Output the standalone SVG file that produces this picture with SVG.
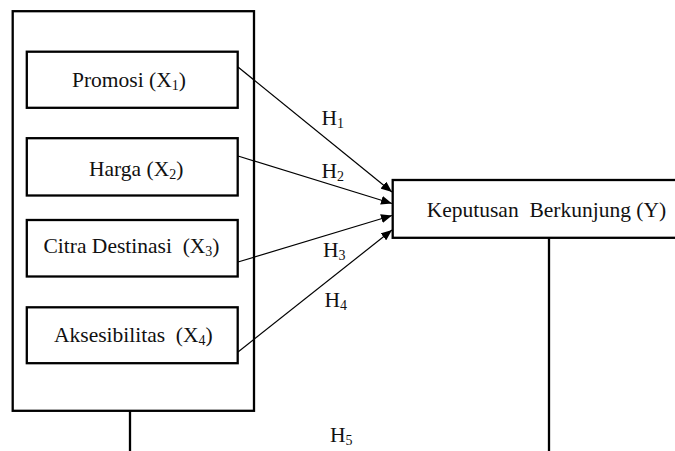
<svg xmlns="http://www.w3.org/2000/svg" width="675" height="451" viewBox="0 0 675 451">
  <style>
    .box { fill: #fff; stroke: #000; stroke-width: 2.3; }
    .t { font-family: 'Liberation Serif', 'Times New Roman', serif; font-size: 21.5px; fill: #111; }
    .s { font-size: 14px; }
    .edge { stroke: #000; stroke-width: 1.2; fill: none; }
    .line { stroke: #000; stroke-width: 2.3; fill: none; }
  </style>
  <defs>
    <marker id="arr" markerUnits="userSpaceOnUse" markerWidth="11" markerHeight="9" refX="11" refY="4.5" orient="auto">
      <path d="M0,0 L11,4.5 L0,9 Z" fill="#000"/>
    </marker>
  </defs>

  <g id="outer">
    <rect class="box" x="12.7" y="11.2" width="241.3" height="399.6"/>
  </g>

  <g id="connectors">
    <line class="edge" x1="238" y1="67" x2="392" y2="192" marker-end="url(#arr)"/>
    <line class="edge" x1="238" y1="156" x2="392" y2="203.5" marker-end="url(#arr)"/>
    <line class="edge" x1="238" y1="262" x2="392" y2="215.5" marker-end="url(#arr)"/>
    <line class="edge" x1="238" y1="352" x2="392" y2="230" marker-end="url(#arr)"/>
    <line class="line" x1="130" y1="410.8" x2="130" y2="452"/>
    <line class="line" x1="549" y1="237.8" x2="549" y2="452"/>
    <text class="t" x="321.5" y="125">H<tspan class="s" dy="3">1</tspan></text>
    <text class="t" x="321.5" y="178">H<tspan class="s" dy="3">2</tspan></text>
    <text class="t" x="323" y="256.5">H<tspan class="s" dy="3">3</tspan></text>
    <text class="t" x="324.5" y="306.5">H<tspan class="s" dy="3">4</tspan></text>
    <text class="t" x="330" y="441.5">H<tspan class="s" dy="3">5</tspan></text>
  </g>

  <g id="x1">
    <rect class="box" x="26.8" y="51.7" width="210.9" height="56.1"/>
    <text class="t" x="72" y="87">Promosi (X<tspan class="s" dy="3">1</tspan><tspan dy="-3">)</tspan></text>
  </g>
  <g id="x2">
    <rect class="box" x="26.8" y="138.2" width="210.9" height="57.3"/>
    <text class="t" x="89" y="175.5">Harga (X<tspan class="s" dy="3">2</tspan><tspan dy="-3">)</tspan></text>
  </g>
  <g id="x3">
    <rect class="box" x="26.8" y="220" width="210.9" height="56.5"/>
    <text class="t" x="43.5" y="253.3" xml:space="preserve">Citra Destinasi  (X<tspan class="s" dy="3">3</tspan><tspan dy="-3">)</tspan></text>
  </g>
  <g id="x4">
    <rect class="box" x="26.8" y="307.3" width="210.9" height="55.9"/>
    <text class="t" x="54" y="342" xml:space="preserve">Aksesibilitas  (X<tspan class="s" dy="3">4</tspan><tspan dy="-3">)</tspan></text>
  </g>
  <g id="y">
    <rect class="box" x="392.7" y="180" width="300" height="57.8"/>
    <text class="t" x="426.7" y="216.7" xml:space="preserve">Keputusan  Berkunjung (Y)</text>
  </g>
</svg>
